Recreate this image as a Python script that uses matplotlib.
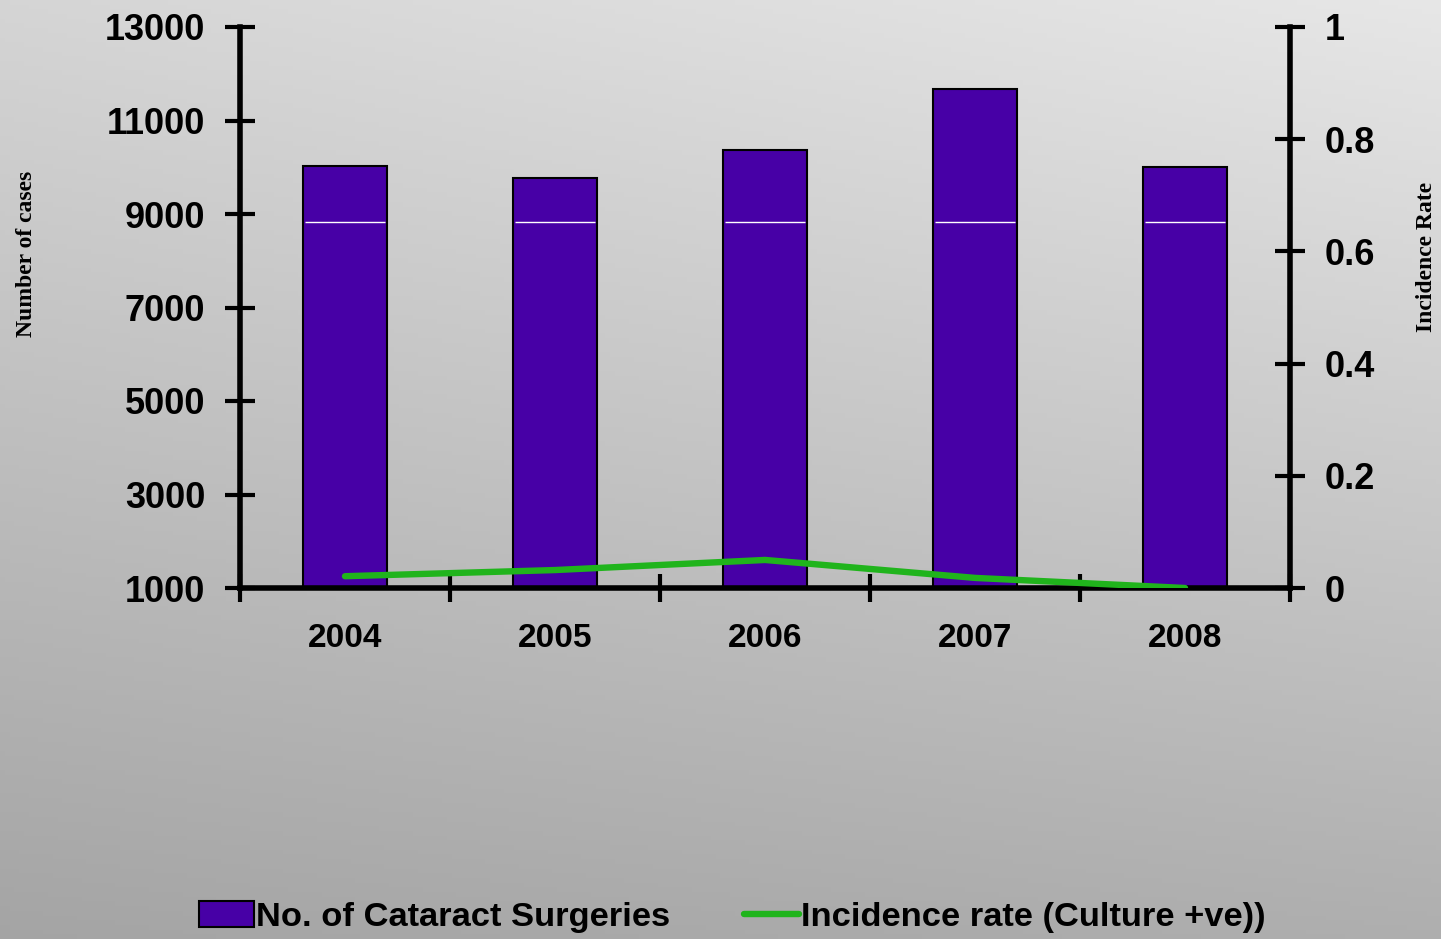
import numpy as np
import matplotlib.pyplot as plt

# data
years = ['2004', '2005', '2006', '2007', '2008']
surgeries = [10030, 9770, 10370, 11680, 10010]
incidence = [0.021, 0.032, 0.050, 0.018, 0.0]
white_line_level = 8830

plt.rcParams['font.family'] = ['Liberation Sans', 'DejaVu Sans']
plt.rcParams['font.weight'] = 'bold'

fig = plt.figure(figsize=(14.41, 9.39), dpi=100)

# gray gradient background
bg = fig.add_axes([0, 0, 1, 1], zorder=-10)
gx, gy = np.meshgrid(np.linspace(0, 1, 300), np.linspace(0, 1, 200))
shade = 0.645 + 0.04 * gx + 0.19 * (1 - gy) + 0.03 * gx * (1 - gy)
shade = np.clip(shade, 0, 1)
bg.imshow(np.dstack([shade, shade, shade]), aspect='auto', extent=[0, 1, 0, 1])
bg.axis('off')

ax = fig.add_axes([240 / 1441, 1 - 588 / 939, 1050 / 1441, 561 / 939])
ax.patch.set_alpha(0)
x = np.arange(len(years))
bars = ax.bar(x, surgeries, width=0.4, color='#4700A6', edgecolor='black',
              linewidth=1.5, bottom=0, label='No. of Cataract Surgeries', zorder=2)
ax.hlines([white_line_level] * len(years), x - 0.19, x + 0.19, color='white', linewidth=1, zorder=3)
ax.set_ylim(1000, 13000)
ax.set_xlim(-0.5, len(years) - 0.5)
ax.set_yticks(range(1000, 13001, 2000))
ax.set_xticks(x)
ax.set_xticklabels(years)
ax.set_xticks(np.arange(-0.5, len(years)), minor=True)
ax.tick_params(axis='x', which='major', length=0, pad=25, labelsize=24)
ax.tick_params(axis='x', which='minor', direction='inout', length=20, width=3)
ax.tick_params(axis='y', direction='inout', length=22, width=3, labelsize=26, pad=14)
for side in ['top', 'right']:
    ax.spines[side].set_visible(False)
ax.spines['left'].set_linewidth(4)
ax.spines['bottom'].set_linewidth(4)
ax.set_ylabel('Number of cases', family='Liberation Serif', fontsize=17, fontweight='bold', labelpad=0)
ax.yaxis.set_label_coords(-0.193, 0.595)

ax2 = ax.twinx()
line, = ax2.plot(x, incidence, color='#20B41C', linewidth=4.6, solid_capstyle='round',
                 label='Incidence rate (Culture +ve))', zorder=4)
ax2.set_ylim(0, 1)
ax2.set_yticks([0, 0.2, 0.4, 0.6, 0.8, 1])
ax2.set_yticklabels(['0', '0.2', '0.4', '0.6', '0.8', '1'])
ax2.tick_params(axis='y', direction='inout', length=22, width=3, labelsize=26, pad=14)
for side in ['top', 'left', 'bottom']:
    ax2.spines[side].set_visible(False)
ax2.spines['right'].set_linewidth(4)
ax2.set_ylabel('Incidence Rate', family='Liberation Serif', fontsize=17, fontweight='bold', labelpad=0)
ax2.yaxis.set_label_coords(1.12, 0.59)

for t in ax.get_xticklabels() + ax.get_yticklabels() + ax2.get_yticklabels():
    t.set_fontweight('bold')

fig.legend([bars, line], ['No. of Cataract Surgeries', 'Incidence rate (Culture +ve))'],
           loc='center', bbox_to_anchor=(732 / 1441, 1 - 917 / 939), ncol=2, frameon=False,
           handlelength=1.6, handleheight=0.8, handletextpad=0.05, columnspacing=2.15,
           prop={'weight': 'bold', 'size': 24.8})

fig.savefig('out.png', dpi=100)
